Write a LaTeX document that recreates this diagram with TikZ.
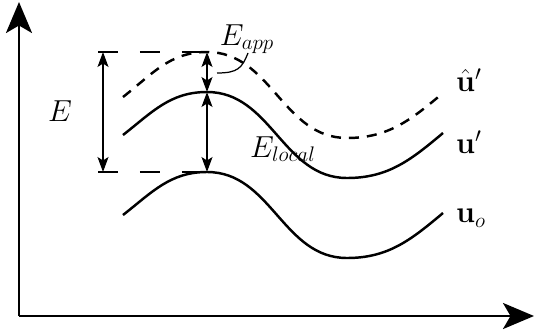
\documentclass[tikz,border=0pt]{standalone}
\usepackage{amsmath}
\usepackage{bm}
\usetikzlibrary{arrows.meta}

\begin{document}
\begin{tikzpicture}[x=0.02cm, y=0.02cm,
    axis/.style={line width=1.6pt, -{Stealth[length=0.62cm, width=0.52cm, inset=0.15cm]}},
    wave/.style={line width=1.4pt},
    guide/.style={line width=1.4pt, dash pattern=on 0.4cm off 0.44cm},
    gap/.style={line width=0.7pt, {Stealth[length=0.3cm, width=0.22cm, inset=0.07cm]}-{Stealth[length=0.3cm, width=0.22cm, inset=0.07cm]}},
    lbl/.style={font=\fontsize{18}{20}\selectfont}]
    \useasboundingbox (0,0) rectangle (536,332);

    % Axes
    \coordinate (o) at (19,16);
    \coordinate (ytip) at (19,330);
    \coordinate (xtip) at (534,16);
    \draw[axis] (o) -- (ytip);
    \draw[axis] (o) -- (xtip);

    % Peaks of the three curves
    \coordinate (pb) at (207,160);
    \coordinate (pm) at (207,240);
    \coordinate (pd) at (207,280);

    % Curves: u_o, u' and the dashed one shifted up
    \draw[wave] (123,117) to[out=38, in=180] (pb) to[out=0, in=180] (347,74)
        to[out=0, in=-140] (443,119);
    \draw[wave] (123,197) to[out=38, in=180] (pm) to[out=0, in=180] (347,154)
        to[out=0, in=-140] (443,199);
    \draw[wave, dash pattern=on 0.2cm off 0.16cm] (123,235) to[out=38, in=180] (pd)
        to[out=0, in=180] (347,194) to[out=0, in=-140] (443,239);

    % Dashed guide lines
    \coordinate (gt) at (98,280);
    \coordinate (gb) at (98,160);
    \draw[guide] (gt) -- (pd);
    \draw[guide] (gb) -- (pb);

    % Energy gaps
    \coordinate (et) at (103,280);
    \coordinate (eb) at (103,160);
    \draw[gap] (et) -- (eb);
    \draw[gap] (pd) -- (pm);
    \draw[gap] (pm) -- (pb);

    % Labels
    \node[lbl] (e) at (60,221) {$E$};
    \node[lbl] (eapp) at (247,293) {$E_{app}$};
    \node[lbl] (eloc) at (283,183) {$E_{local}$};
    \coordinate (lead) at (217,259);
    \draw[line width=0.7pt] (lead) .. controls (238,259) and (242,264) .. (248,279);
    \node[lbl, anchor=west] (uhat) at (450,252) {$\hat{\mathbf{u}}'$};
    \node[lbl, anchor=west] (up) at (450,190) {$\mathbf{u}'$};
    \node[lbl, anchor=west] (uo) at (450,114) {$\mathbf{u}_o$};
\end{tikzpicture}
\end{document}
